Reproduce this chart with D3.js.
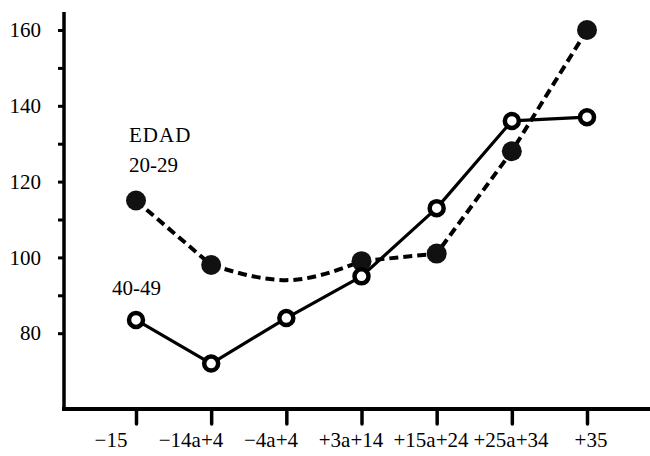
<!DOCTYPE html>
<html>
<head>
<meta charset="utf-8">
<script src="https://cdn.jsdelivr.net/npm/d3@7"></script>
<style>
  body { margin: 0; background: #fff; }
  svg { display: block; }
  text { font-family: "Liberation Serif", "Times New Roman", serif; fill: #000; }
</style>
</head>
<body>
<div id="chart"></div>
<script>
// groups of change (x axis)
const categories = ['−15', '−14a+4', '−4a+4', '+3a+14', '+15a+24', '+25a+34', '+35'];

// EDAD 20-29, dashed with filled dots (no dot on the third group)
const edad2029 = [115, 98, 94, 99, 101, 128, 160];
const dots2029 = [true, true, false, true, true, true, true];

// EDAD 40-49, solid with open dots
const edad4049 = [83.5, 72, 84, 95, 113, 136, 137];

const yTicks = [80, 90, 100, 110, 120, 130, 140, 150, 160];
const yLabels = [80, 100, 120, 140, 160];

const width = 650;
const height = 456;

const svg = d3.select('#chart')
  .append('svg')
    .attr('width', width)
    .attr('height', height);

const x = d3.scalePoint()
  .domain(categories)
  .range([136, 587]);

// the printed labels sit on a slightly wider spacing than the ticks
const xLabel = d3.scalePoint()
  .domain(categories)
  .range([111, 591]);

const y = d3.scaleLinear()
  .domain([60, 160])
  .range([409, 30]);

const axisX = 64;
const axisY = y(60);

// y axis
const yAxis = svg.append('g')
  .attr('transform', `translate(${axisX},0)`)
  .call(d3.axisLeft(y)
    .tickValues(yTicks)
    .tickSize(6)
    .tickPadding(17)
    .tickFormat(d => (yLabels.includes(d) ? d : '')));

yAxis.select('.domain').remove();
yAxis.selectAll('.tick line')
  .attr('stroke', '#000')
  .attr('stroke-width', 3);
yAxis.selectAll('.tick text')
  .attr('font-size', 21)
  .attr('fill', '#000');

svg.append('line')
  .attr('x1', axisX)
  .attr('x2', axisX)
  .attr('y1', 12)
  .attr('y2', axisY + 2)
  .attr('stroke', '#000')
  .attr('stroke-width', 3.5);

// x axis
const xAxis = svg.append('g')
  .attr('transform', `translate(0,${axisY})`)
  .call(d3.axisBottom(x)
    .tickSize(15)
    .tickFormat(''));

xAxis.select('.domain').remove();
xAxis.selectAll('.tick line')
  .attr('stroke', '#000')
  .attr('stroke-width', 3.5)
  .attr('stroke-linecap', 'round');

svg.append('line')
  .attr('x1', axisX - 2)
  .attr('x2', width)
  .attr('y1', axisY)
  .attr('y2', axisY)
  .attr('stroke', '#000')
  .attr('stroke-width', 4);

svg.append('g')
  .selectAll('text')
  .data(categories)
  .enter()
  .append('text')
    .attr('x', d => xLabel(d))
    .attr('y', 447)
    .attr('text-anchor', 'middle')
    .attr('font-size', 21)
    .text(d => d);

// lines
const pts2029 = categories.map((c, i) => [x(c), y(edad2029[i])]);
const pts4049 = categories.map((c, i) => [x(c), y(edad4049[i])]);

const straight = d3.line();
const curved = d3.line().curve(d3.curveMonotoneX);

const dashed = svg.append('g')
  .attr('fill', 'none')
  .attr('stroke', '#000')
  .attr('stroke-width', 4)
  .attr('stroke-dasharray', '9,5');

dashed.append('path').attr('d', straight(pts2029.slice(0, 2)));
dashed.append('path').attr('d', curved(pts2029.slice(1, 4)));
dashed.append('path').attr('d', straight(pts2029.slice(3)));

svg.append('path')
  .attr('d', straight(pts4049))
  .attr('fill', 'none')
  .attr('stroke', '#000')
  .attr('stroke-width', 3.2)
  .attr('stroke-linejoin', 'round');

// dots
svg.append('g')
  .selectAll('circle')
  .data(pts2029.filter((p, i) => dots2029[i]))
  .enter()
  .append('circle')
    .attr('cx', d => d[0])
    .attr('cy', d => d[1])
    .attr('r', 10)
    .attr('fill', '#111');

svg.append('g')
  .selectAll('circle')
  .data(pts4049)
  .enter()
  .append('circle')
    .attr('cx', d => d[0])
    .attr('cy', d => d[1])
    .attr('r', 7)
    .attr('fill', '#fff')
    .attr('stroke', '#000')
    .attr('stroke-width', 4.5);

// labels
svg.append('text')
  .attr('x', 129)
  .attr('y', 142)
  .attr('font-size', 21)
  .attr('letter-spacing', 1)
  .text('EDAD');

svg.append('text')
  .attr('x', 129)
  .attr('y', 172)
  .attr('font-size', 21)
  .text('20-29');

svg.append('text')
  .attr('x', 112)
  .attr('y', 295)
  .attr('font-size', 21)
  .text('40-49');
</script>
</body>
</html>
